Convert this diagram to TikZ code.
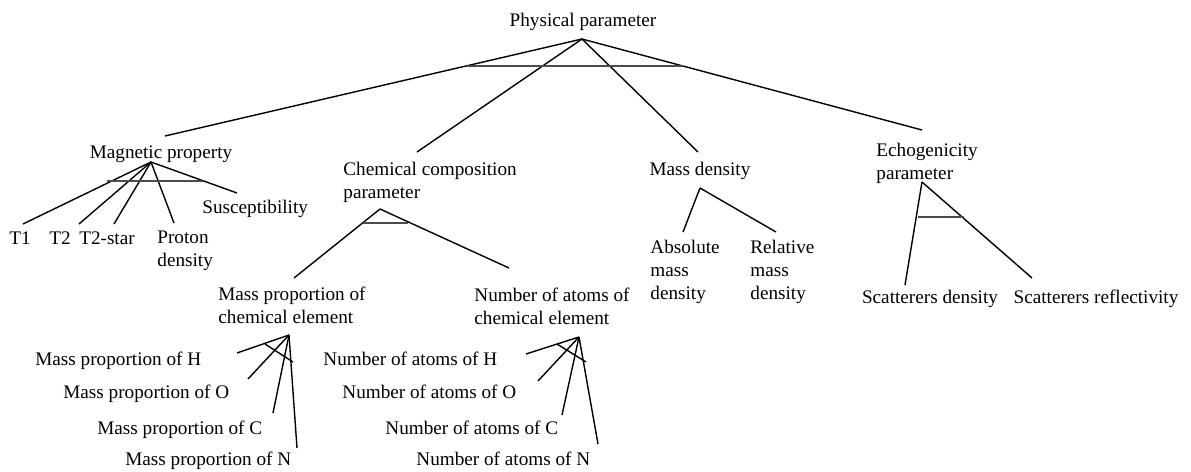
\documentclass[tikz,border=0pt]{standalone}
\usepackage{fontspec}
\setmainfont{Liberation Serif}
\usepackage{tikz}
\usetikzlibrary{positioning}
\newcommand{\txt}{\fontsize{9.6}{11.5}\selectfont}

\begin{document}
\begin{tikzpicture}[x=0.5pt, y=-0.5pt,
  lb/.style={inner sep=0pt, font=\txt, anchor=mid, yshift=-1pt},
  lw/.style={inner sep=0pt, font=\txt, anchor=mid west, yshift=-1pt},
  ml/.style={inner sep=0pt, font=\txt, align=left, anchor=north west, yshift=-1pt},
  ln/.style={line width=0.7pt},
  br/.style={line width=0.6pt, black!70}
]
\useasboundingbox (0,0) rectangle (1191,472);

% labels
\node[lb] (pp) at (583,20) {Physical parameter};
\node[lb] (mag) at (161,152) {Magnetic property};
\node[ml] (chem) at (343,160) {Chemical composition\\parameter};
\node[lb] (md) at (700,169) {Mass density};
\node[ml] (echo) at (876,141) {Echogenicity\\parameter};

\node[lb] (t1) at (20,238) {T1};
\node[lb] (t2) at (60,238) {T2};
\node[lb] (t2s) at (107,238) {T2-star};
\node[ml] (pd) at (157,229) {Proton\\density};
\node[lw] (sus) at (202,207) {Susceptibility};

\node[ml] (mp) at (218,285) {Mass proportion of\\chemical element};
\node[ml] (na) at (474,286) {Number of atoms of\\chemical element};

\node[ml] (amd) at (650,238) {Absolute\\mass\\density};
\node[ml] (rmd) at (750,238) {Relative\\mass\\density};

\node[lb] (sd) at (930,297) {Scatterers density};
\node[lb] (sr) at (1096,297) {Scatterers reflectivity};

\node[lw] (mpH) at (35,359) {Mass proportion of H};
\node[lw] (mpO) at (63,392) {Mass proportion of O};
\node[lw] (mpC) at (97,428) {Mass proportion of C};
\node[lw] (mpN) at (125,459) {Mass proportion of N};

\node[lw] (naH) at (323,359) {Number of atoms of H};
\node[lw] (naO) at (342,392) {Number of atoms of O};
\node[lw] (naC) at (385,428) {Number of atoms of C};
\node[lw] (naN) at (416,459) {Number of atoms of N};

% apexes and line ends
\coordinate (ppA) at (582,39);
\coordinate (magE) at (165,136);
\coordinate (chemE) at (417,152);
\coordinate (mdE) at (698,152);
\coordinate (echoE) at (922,130);

\coordinate (magA) at (151,162);
\coordinate (t1E) at (23,224);
\coordinate (t2E) at (79,224);
\coordinate (t2sE) at (114,224);
\coordinate (pdE) at (174,223);
\coordinate (susE) at (237,193);

\coordinate (chemA) at (380,209);
\coordinate (mpE) at (294,278);
\coordinate (naE) at (509,268);

\coordinate (mdA) at (700,188);
\coordinate (amdE) at (683,232);
\coordinate (rmdE) at (776,232);

\coordinate (echoA) at (922,182);
\coordinate (sdE) at (905,285);
\coordinate (srE) at (1032,278);

\coordinate (mpA) at (289,335);
\coordinate (mpHE) at (237,353);
\coordinate (mpOE) at (248,379);
\coordinate (mpCE) at (273,413);
\coordinate (mpNE) at (297,448);

\coordinate (naA) at (579,337);
\coordinate (naHE) at (526,354);
\coordinate (naOE) at (538,381);
\coordinate (naCE) at (562,415);
\coordinate (naNE) at (598,444);

% connectors
\foreach \e in {magE,chemE,mdE,echoE} \draw[ln] (ppA) -- (\e);
\draw[br] (467,66) -- (683,66);

\foreach \e in {t1E,t2E,t2sE,pdE,susE} \draw[ln] (magA) -- (\e);
\draw[br] (107,181) -- (203,181);

\foreach \e in {mpE,naE} \draw[ln] (chemA) -- (\e);
\draw[br] (363,223) -- (408,223);

\foreach \e in {amdE,rmdE} \draw[ln] (mdA) -- (\e);

\foreach \e in {sdE,srE} \draw[ln] (echoA) -- (\e);
\draw[br] (917.5,217) -- (964,217);

\foreach \e in {mpHE,mpOE,mpCE,mpNE} \draw[ln] (mpA) -- (\e);
\draw[ln] (265,344) -- (293,362);

\foreach \e in {naHE,naOE,naCE,naNE} \draw[ln] (naA) -- (\e);
\draw[ln] (557,344) -- (586,362);
\end{tikzpicture}
\end{document}
